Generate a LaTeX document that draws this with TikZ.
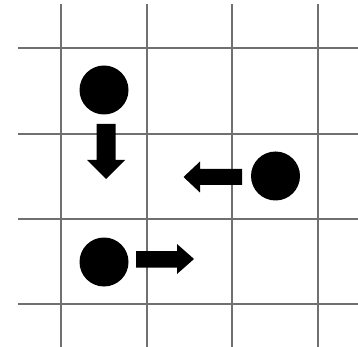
\documentclass[tikz,border=0pt]{standalone}
\begin{document}
\begin{tikzpicture}[x=1pt,y=-1pt,
  gridline/.style={draw={rgb,255:red,112;green,112;blue,112},line width=1.9pt},
  dot/.style={circle,fill=black,inner sep=0pt,minimum size=49pt},
  arrowshape/.style={fill=black}]
\useasboundingbox (0,0) rectangle (358,347);
% grid
\foreach \x in {61,146.7,232,318}
  \draw[gridline] (\x,4) -- (\x,347);
\foreach \y in {47.7,134,219.3,304.3}
  \draw[gridline] (18,\y) -- (358,\y);
% dots
\node[dot] (d1) at (104,90) {};
\node[dot] (d2) at (275.5,176) {};
\node[dot] (d3) at (104,262) {};
% down arrow
\fill[arrowshape] (96.5,124) -- (115.5,124) -- (115.5,160) -- (125,160) -- (106,179)
  -- (87,160) -- (96.5,160) -- cycle;
% left arrow
\fill[arrowshape] (242,169) -- (242,185) -- (200,185) -- (200,192.5) -- (183.5,177)
  -- (200,161.5) -- (200,169) -- cycle;
% right arrow
\fill[arrowshape] (136,251) -- (177,251) -- (177,244) -- (194,259) -- (177,274)
  -- (177,267.5) -- (136,267.5) -- cycle;
\end{tikzpicture}
\end{document}
